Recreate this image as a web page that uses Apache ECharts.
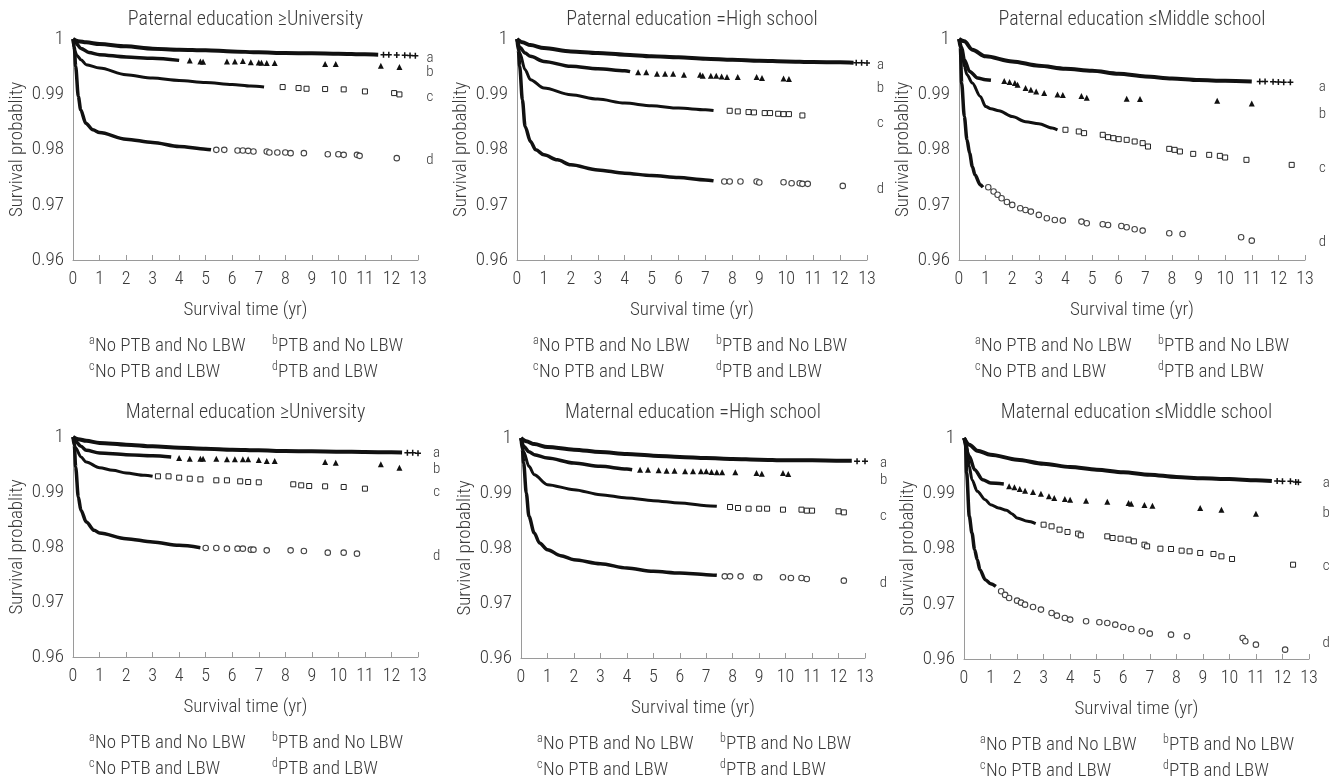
<!DOCTYPE html>
<html><head><meta charset="utf-8">
<script src="https://cdn.jsdelivr.net/npm/echarts/dist/echarts.min.js"></script>
<style>html,body{margin:0;padding:0;background:#fff}#c{width:1343px;height:781px}</style>
</head><body><div id="c"></div><script>
// ---------- text ----------
const panelTitles = [
  'Paternal education \u2265University', 'Paternal education =High school', 'Paternal education \u2264Middle school',
  'Maternal education \u2265University', 'Maternal education =High school', 'Maternal education \u2264Middle school'];
const curveLetters = ['a', 'b', 'c', 'd'];
const legendItems = [['a', 'No PTB and No LBW'], ['b', 'PTB and No LBW'], ['c', 'No PTB and LBW'], ['d', 'PTB and LBW']];
const xAxisName = 'Survival time (yr)';
const yAxisName = 'Survival probablity';

// ---------- data: [time (yr), survival probability] ----------
// P1: Paternal >= University
const P1_a_line = [[0,1],[0.2,0.9996],[0.5,0.9994],[1,0.99909],[2,0.99867],[3,0.99825],[4,0.99807],[5,0.99795],[6,0.99776],[7,0.99758],[8,0.99746],[9,0.9974],[10,0.99734],[11,0.99722],[11.5,0.99716]];
const P1_a_pts = [[11.7,0.99716],[11.9,0.99716],[12.2,0.99712],[12.5,0.99706],[12.7,0.997],[12.9,0.99698],[13.2,0.99698]];
const P1_b_line = [[0,1],[0.1,0.9993],[0.3,0.9983],[0.6,0.99755],[1,0.99716],[2,0.99674],[3,0.9965],[4,0.99613]];
const P1_b_pts = [[4.4,0.99613],[4.8,0.99595],[4.9,0.9959],[5.8,0.99595],[6.1,0.99595],[6.4,0.996],[6.7,0.9958],[7.0,0.99575],[7.1,0.9957],[7.3,0.99565],[7.6,0.99565],[9.5,0.99547],[9.9,0.99547],[11.6,0.99517],[12.3,0.99492]];
const P1_c_line = [[0,1],[0.05,0.998],[0.15,0.997],[0.3,0.99625],[0.5,0.99535],[1,0.99474],[2,0.99353],[3,0.99293],[4,0.99251],[5,0.99214],[6,0.99178],[6.7,0.99148],[7.2,0.9913]];
const P1_c_pts = [[7.9,0.9913],[8.5,0.99112],[8.8,0.991],[9.5,0.99094],[10.2,0.99088],[11,0.99051],[12.1,0.99021],[12.3,0.98997]];
const P1_d_line = [[0,1],[0.05,0.9985],[0.1,0.99505],[0.2,0.98961],[0.29,0.98719],[0.48,0.98477],[0.75,0.98356],[1,0.98308],[2,0.98187],[3,0.98127],[4,0.98054],[5,0.98006],[5.2,0.97994]];
const P1_d_pts = [[5.4,0.97994],[5.7,0.97994],[6.2,0.97982],[6.4,0.97982],[6.6,0.97976],[6.8,0.97964],[7.3,0.97964],[7.4,0.97946],[7.7,0.97946],[8.0,0.97946],[8.2,0.97934],[8.7,0.97934],[9.6,0.97915],[10,0.97915],[10.2,0.97903],[10.7,0.97903],[10.8,0.97885],[12.2,0.97843]];
const P1_labels = [0.99656, 0.99403, 0.9895, 0.9781];

// P2: Paternal = High school
const P2_a_line = [[0,1],[0.2,0.9994],[0.5,0.9989],[1,0.99837],[2,0.99776],[3,0.99746],[4,0.99716],[5,0.99686],[6,0.99668],[7,0.99644],[8,0.99625],[9,0.99607],[10,0.99595],[11,0.99583],[12,0.99577],[12.5,0.9957]];
const P2_a_pts = [[12.6,0.9957],[12.8,0.9957],[13.0,0.99565]];
const P2_b_line = [[0,1],[0.1,0.9985],[0.3,0.99746],[0.5,0.99686],[1,0.99595],[2,0.99505],[3,0.99462],[4,0.99426],[4.2,0.9941]];
const P2_b_pts = [[4.5,0.99396],[4.8,0.99396],[5.2,0.99372],[5.5,0.99372],[5.8,0.99372],[6.2,0.99353],[6.8,0.99353],[6.9,0.99335],[7.2,0.99335],[7.4,0.99335],[7.6,0.99323],[7.8,0.99311],[8.2,0.99311],[8.9,0.99311],[9.1,0.99293],[9.9,0.99287],[10.1,0.99275]];
const P2_c_line = [[0,1],[0.1,0.9975],[0.3,0.99444],[0.5,0.99263],[1,0.99112],[2,0.98991],[3,0.98912],[4,0.9884],[5,0.98792],[6,0.98749],[7,0.98719],[7.3,0.98707]];
const P2_c_pts = [[7.9,0.98701],[8.2,0.98689],[8.6,0.98677],[8.8,0.98671],[9.2,0.98659],[9.4,0.98659],[9.7,0.98647],[9.9,0.9864],[10.1,0.9864],[10.6,0.98616]];
const P2_d_line = [[0,1],[0.05,0.998],[0.1,0.99505],[0.2,0.98901],[0.3,0.98417],[0.5,0.98145],[0.7,0.97994],[1,0.97903],[1.5,0.97813],[2,0.97722],[3,0.97631],[4,0.97571],[5,0.97529],[6,0.97492],[7,0.9745],[7.3,0.97432]];
const P2_d_pts = [[7.7,0.9742],[7.9,0.9742],[8.3,0.9742],[8.9,0.9742],[9.0,0.97402],[9.9,0.97408],[10.2,0.9739],[10.5,0.9739],[10.6,0.97378],[10.8,0.97378],[12.1,0.97341]];
const P2_labels = [0.99529, 0.99113, 0.9848, 0.97285];

// P3: Paternal <= Middle school
const P3_a_line = [[0,1],[0.2,0.99958],[0.5,0.99807],[1,0.99686],[2,0.99595],[3,0.99517],[4,0.99462],[5,0.99426],[6,0.99372],[7,0.99323],[8,0.99287],[9,0.99257],[10,0.99245],[11,0.99233]];
const P3_a_pts = [[11.3,0.99233],[11.5,0.99233],[11.8,0.99227],[12.0,0.99221],[12.2,0.99215],[12.45,0.99215]];
const P3_b_line = [[0,1],[0.1,0.9985],[0.2,0.99626],[0.4,0.99414],[0.7,0.99293],[1,0.99263],[1.2,0.99255]];
const P3_b_pts = [[1.7,0.99239],[1.9,0.99221],[2.1,0.99202],[2.2,0.99172],[2.5,0.99112],[2.7,0.99082],[2.9,0.99051],[3.2,0.99021],[3.7,0.98997],[3.9,0.98985],[4.6,0.98967],[4.8,0.98937],[6.3,0.98918],[6.8,0.98912],[9.7,0.98882],[11,0.98834]];
const P3_c_line = [[0,1],[0.1,0.99807],[0.2,0.99505],[0.3,0.99353],[0.5,0.99202],[0.8,0.98961],[1,0.98779],[1.2,0.98737],[1.5,0.98701],[2,0.98597],[2.5,0.98504],[3,0.98465],[3.5,0.98387],[3.7,0.98357]];
const P3_c_pts = [[4.0,0.98357],[4.5,0.98326],[4.7,0.98296],[5.4,0.98266],[5.6,0.98223],[5.8,0.98205],[6,0.98187],[6.3,0.98175],[6.6,0.98145],[6.9,0.98115],[7.1,0.98054],[7.9,0.98012],[8.1,0.97994],[8.3,0.97964],[8.8,0.97921],[9.4,0.97903],[9.8,0.97885],[10,0.97855],[10.8,0.97813],[12.5,0.97722]];
const P3_d_line = [[0,1],[0.05,0.9985],[0.1,0.99202],[0.2,0.98598],[0.3,0.98175],[0.4,0.97934],[0.5,0.97692],[0.6,0.97541],[0.8,0.9736],[0.9,0.97317]];
const P3_d_pts = [[1.1,0.97317],[1.3,0.97239],[1.45,0.9718],[1.6,0.97118],[1.8,0.9705],[2,0.96997],[2.3,0.96937],[2.5,0.96905],[2.7,0.96876],[3,0.96816],[3.3,0.96755],[3.6,0.96725],[3.9,0.96713],[4.6,0.96695],[4.8,0.96665],[5.4,0.96647],[5.6,0.96634],[6.1,0.96616],[6.3,0.96592],[6.6,0.96556],[6.9,0.96532],[7.9,0.96483],[8.4,0.96471],[10.6,0.96411],[11,0.9635]];
const P3_labels = [0.99131, 0.98643, 0.97665, 0.96326];

// M1: Maternal >= University
const M1_a_line = [[0,1],[0.2,0.9996],[0.5,0.9993],[1,0.99891],[2,0.99861],[3,0.9983],[4,0.99806],[5,0.99788],[6,0.9977],[7,0.99758],[8,0.99745],[9,0.99739],[10,0.99733],[11,0.99727],[12,0.99721],[12.4,0.99718]];
const M1_a_pts = [[12.6,0.99715],[12.8,0.99715],[13.0,0.99703]];
const M1_b_line = [[0,1],[0.1,0.9992],[0.3,0.9983],[0.5,0.99758],[1,0.99709],[2,0.99679],[3,0.99661],[3.7,0.99636]];
const M1_b_pts = [[4,0.99618],[4.4,0.99606],[4.8,0.99606],[4.9,0.99606],[5.4,0.99606],[5.8,0.99594],[6.1,0.99594],[6.4,0.99594],[6.6,0.99594],[7,0.99582],[7.3,0.99564],[7.6,0.99564],[9.5,0.99545],[9.9,0.99533],[11.6,0.99503],[12.3,0.99442]];
const M1_c_line = [[0,1],[0.1,0.998],[0.3,0.99636],[0.5,0.99545],[1,0.99442],[1.5,0.99394],[2,0.99345],[2.7,0.99303],[3,0.99285]];
const M1_c_pts = [[3.2,0.99285],[3.6,0.99285],[4,0.99261],[4.4,0.99242],[4.8,0.9923],[5.4,0.99212],[5.8,0.99212],[6.3,0.99194],[6.6,0.99182],[7.0,0.99176],[8.3,0.9914],[8.6,0.99121],[8.9,0.99109],[9.5,0.99103],[10.2,0.99091],[11,0.99061]];
const M1_d_line = [[0,1],[0.05,0.9985],[0.1,0.99455],[0.2,0.98909],[0.3,0.98667],[0.5,0.98455],[0.8,0.98303],[1,0.98255],[2,0.98152],[3,0.98091],[4,0.9803],[4.8,0.97988]];
const M1_d_pts = [[5,0.97982],[5.4,0.97982],[5.8,0.9797],[6.2,0.9797],[6.4,0.9797],[6.7,0.97952],[6.8,0.97952],[7.3,0.97939],[8.2,0.97939],[8.7,0.97927],[9.6,0.97897],[10.2,0.97897],[10.7,0.97879]];
const M1_labels = [0.99709, 0.99418, 0.99, 0.97836];

// M2: Maternal = High school
const M2_a_line = [[0,1],[0.2,0.9994],[0.5,0.9989],[1,0.99836],[2,0.99788],[3,0.99745],[4,0.99709],[5,0.99679],[6,0.99655],[7,0.99636],[8,0.99618],[9,0.99606],[10,0.99594],[11,0.99594],[12,0.99588],[12.5,0.99588]];
const M2_a_pts = [[12.7,0.99576],[13.0,0.99576]];
const M2_b_line = [[0,1],[0.1,0.9985],[0.3,0.9975],[0.5,0.99697],[1,0.99636],[2,0.99545],[3,0.99485],[4,0.99436],[4.2,0.99424]];
const M2_b_pts = [[4.5,0.99424],[4.8,0.99424],[5.2,0.99412],[5.5,0.99406],[5.8,0.99406],[6.2,0.99394],[6.5,0.99394],[6.8,0.99394],[7.0,0.99394],[7.2,0.99382],[7.4,0.99376],[7.6,0.99376],[8.1,0.99376],[8.9,0.99364],[9.1,0.99352],[9.9,0.99364],[10.1,0.99345]];
const M2_c_line = [[0,1],[0.1,0.9975],[0.3,0.99485],[0.5,0.99333],[1,0.99152],[2,0.99061],[3,0.9897],[4,0.98909],[5,0.98861],[6,0.98818],[7,0.9877],[7.4,0.98758]];
const M2_c_pts = [[7.9,0.98745],[8.2,0.98727],[8.6,0.98715],[9,0.98715],[9.3,0.98715],[9.9,0.98697],[10.6,0.98697],[10.8,0.98679],[11,0.98679],[12,0.98667],[12.2,0.98648]];
const M2_d_line = [[0,1],[0.05,0.998],[0.1,0.99545],[0.2,0.99],[0.3,0.98576],[0.5,0.98273],[0.7,0.98091],[1,0.9797],[1.5,0.97861],[2,0.97788],[3,0.97715],[4,0.97636],[5,0.97576],[6,0.97545],[7,0.97515],[7.4,0.97503]];
const M2_d_pts = [[7.7,0.97485],[7.9,0.97485],[8.3,0.97485],[8.9,0.97467],[9.0,0.97467],[9.9,0.97467],[10.2,0.97455],[10.6,0.97455],[10.8,0.97436],[12.2,0.97406]];
const M2_labels = [0.99545, 0.99236, 0.98582, 0.97364];

// M3: Maternal <= Middle school
const M3_a_line = [[0,1],[0.2,0.99879],[0.5,0.99771],[1,0.99698],[2,0.99608],[3,0.99535],[4,0.99475],[5,0.99427],[6,0.99379],[7,0.99336],[8,0.99294],[9,0.9927],[10,0.99258],[11,0.99234],[11.6,0.99222]];
const M3_a_pts = [[11.8,0.99222],[12.0,0.99216],[12.3,0.99216],[12.5,0.99204],[12.6,0.99198]];
const M3_b_line = [[0,1],[0.2,0.99668],[0.4,0.99427],[0.7,0.99246],[1,0.99186],[1.5,0.99168]];
const M3_b_pts = [[1.7,0.99125],[1.9,0.99107],[2.1,0.99077],[2.3,0.99047],[2.6,0.99023],[2.9,0.98992],[3.2,0.98944],[3.4,0.98914],[3.8,0.98896],[4,0.98884],[4.6,0.98866],[5.4,0.98848],[6.2,0.98824],[6.3,0.98812],[6.8,0.98788],[7.1,0.98775],[8.9,0.98733],[9.7,0.98703],[11,0.9863]];
const M3_c_line = [[0,1],[0.1,0.99849],[0.2,0.99487],[0.3,0.99246],[0.5,0.99035],[0.8,0.98884],[1,0.98794],[1.3,0.98733],[1.6,0.98691],[1.8,0.98631],[2,0.98552],[2.4,0.98492],[2.7,0.9845]];
const M3_c_pts = [[3.0,0.98431],[3.3,0.98401],[3.6,0.98341],[3.9,0.98299],[4.3,0.98269],[4.4,0.98239],[5.4,0.9822],[5.6,0.9819],[5.9,0.98178],[6.2,0.9816],[6.4,0.9813],[6.8,0.98069],[6.9,0.98039],[7.4,0.97997],[7.8,0.97991],[8.2,0.97961],[8.5,0.97949],[8.9,0.97919],[9.4,0.97901],[9.7,0.97858],[10.1,0.9781],[12.4,0.97707]];
const M3_d_line = [[0,1],[0.05,0.9997],[0.1,0.99367],[0.2,0.98582],[0.3,0.98281],[0.4,0.97979],[0.5,0.97798],[0.6,0.97617],[0.8,0.97436],[1,0.97364],[1.2,0.97315]];
const M3_d_pts = [[1.4,0.97225],[1.55,0.9716],[1.7,0.97104],[2,0.97056],[2.15,0.9702],[2.3,0.96984],[2.6,0.96942],[2.9,0.96894],[3.3,0.96833],[3.5,0.96785],[3.8,0.96743],[4,0.96713],[4.6,0.96682],[5.1,0.96664],[5.4,0.96652],[5.7,0.96622],[6,0.9658],[6.3,0.96543],[6.7,0.96501],[7,0.96459],[7.8,0.96441],[8.4,0.96411],[10.5,0.96381],[10.6,0.9632],[11,0.9626],[12.1,0.96169]];
const M3_labels = [0.99186, 0.98643, 0.97683, 0.9629];

const panelLines = [
  [P1_a_line, P1_b_line, P1_c_line, P1_d_line], [P2_a_line, P2_b_line, P2_c_line, P2_d_line], [P3_a_line, P3_b_line, P3_c_line, P3_d_line],
  [M1_a_line, M1_b_line, M1_c_line, M1_d_line], [M2_a_line, M2_b_line, M2_c_line, M2_d_line], [M3_a_line, M3_b_line, M3_c_line, M3_d_line]];
const panelPts = [
  [P1_a_pts, P1_b_pts, P1_c_pts, P1_d_pts], [P2_a_pts, P2_b_pts, P2_c_pts, P2_d_pts], [P3_a_pts, P3_b_pts, P3_c_pts, P3_d_pts],
  [M1_a_pts, M1_b_pts, M1_c_pts, M1_d_pts], [M2_a_pts, M2_b_pts, M2_c_pts, M2_d_pts], [M3_a_pts, M3_b_pts, M3_c_pts, M3_d_pts]];
const panelLabels = [P1_labels, P2_labels, P3_labels, M1_labels, M2_labels, M3_labels];

// ---------- layout & style ----------
const GRIDS = [
  {left: 73, top: 39, width: 345, height: 221},
  {left: 517, top: 39, width: 350, height: 221},
  {left: 959, top: 39, width: 346, height: 221},
  {left: 73, top: 437, width: 345, height: 220},
  {left: 521, top: 438, width: 344, height: 220},
  {left: 964, top: 438, width: 345, height: 221}];
const LABEL_X = [13.45, 13.5, 13.65, 13.7, 13.7, 13.65];
const FONT = "'Roboto Condensed','Liberation Sans Narrow','Arial Narrow',Roboto,sans-serif";
const FW = 300;
const TXT = '#3a3a3a';
const AXIS = '#9a9a9a';
const PLUS = 'path://M-1,-4H1V-1H4V1H1V4H-1V1H-4V-1H-1Z';
const STY = [
  {symbol: PLUS, size: 6, fill: '#111', border: '#111', bw: 0, lw: 4},
  {symbol: 'triangle', size: 6, fill: '#111', border: '#111', bw: 0, lw: 3.5},
  {symbol: 'rect', size: 5, fill: '#fff', border: '#222', bw: 1, lw: 3},
  {symbol: 'circle', size: 5.5, fill: '#fff', border: '#444', bw: 1.1, lw: 3.5}];

const chart = echarts.init(document.getElementById('c'), null, {renderer: 'canvas'});
const grid = [], xAxis = [], yAxis = [], series = [];
GRIDS.forEach((g, i) => {
  grid.push(Object.assign({containLabel: false}, g));
  xAxis.push({type: 'value', gridIndex: i, min: 0, max: 13, interval: 1,
    name: xAxisName, nameLocation: 'middle', nameGap: 41,
    nameTextStyle: {fontFamily: FONT, fontWeight: FW, fontSize: 19, color: TXT},
    axisLine: {lineStyle: {color: AXIS, width: 1}},
    axisTick: {inside: true, length: 5, lineStyle: {color: AXIS}},
    axisLabel: {fontFamily: FONT, fontWeight: FW, fontSize: 18, color: TXT, margin: 10},
    splitLine: {show: false}});
  yAxis.push({type: 'value', gridIndex: i, min: 0.96, max: 1, interval: 0.01,
    name: yAxisName, nameLocation: 'middle', nameGap: 46, nameRotate: 90,
    nameTextStyle: {fontFamily: FONT, fontWeight: FW, fontSize: 19, color: TXT},
    axisLine: {show: true, lineStyle: {color: AXIS, width: 1}},
    axisTick: {show: false},
    axisLabel: {fontFamily: FONT, fontWeight: FW, fontSize: 19, color: TXT, margin: 9,
      formatter: v => Math.abs(v - 1) < 1e-9 ? '1' : v.toFixed(2)},
    splitLine: {show: false}});
  for (let k = 0; k < 4; k++) {
    const s = STY[k];
    series.push({type: 'line', xAxisIndex: i, yAxisIndex: i, data: panelLines[i][k],
      symbol: 'none', smooth: 0.3, smoothMonotone: 'x', silent: true,
      lineStyle: {color: '#111', width: s.lw}, z: 2});
    series.push({type: 'scatter', xAxisIndex: i, yAxisIndex: i, data: panelPts[i][k],
      symbol: s.symbol, symbolSize: s.size, silent: true,
      itemStyle: {color: s.fill, borderColor: s.border, borderWidth: s.bw, opacity: 1}, z: 3});
  }
});
chart.setOption({animation: false, backgroundColor: '#fff', grid, xAxis, yAxis, series});

// ---------- text overlays ----------
const graphic = [];
GRIDS.forEach((g, i) => {
  const cx = g.left + g.width / 2;
  const bottom = g.top + g.height;
  graphic.push({type: 'text', x: cx, y: i < 3 ? 20 : 413, silent: true,
    style: {text: panelTitles[i], fontFamily: FONT, fontWeight: FW, fontSize: 20, fill: TXT, align: 'center', verticalAlign: 'middle'}});
  legendItems.forEach((it, j) => {
    const lx = g.left + (j % 2 === 0 ? 16 : 199);
    const ly = bottom + (j < 2 ? 86 : 112);
    graphic.push({type: 'text', x: lx, y: ly - 5, silent: true,
      style: {text: it[0], fontFamily: FONT, fontWeight: FW, fontSize: 12, fill: TXT, align: 'left', verticalAlign: 'middle'}});
    graphic.push({type: 'text', x: lx + 6, y: ly, silent: true,
      style: {text: it[1], fontFamily: FONT, fontWeight: FW, fontSize: 19, fill: TXT, align: 'left', verticalAlign: 'middle'}});
  });
  panelLabels[i].forEach((v, k) => {
    const p = chart.convertToPixel({gridIndex: i}, [LABEL_X[i], v]);
    graphic.push({type: 'text', x: p[0], y: p[1], silent: true,
      style: {text: curveLetters[k], fontFamily: FONT, fontWeight: FW, fontSize: 15, fill: TXT, align: 'center', verticalAlign: 'middle'}});
  });
});
chart.setOption({graphic});
</script></body></html>
